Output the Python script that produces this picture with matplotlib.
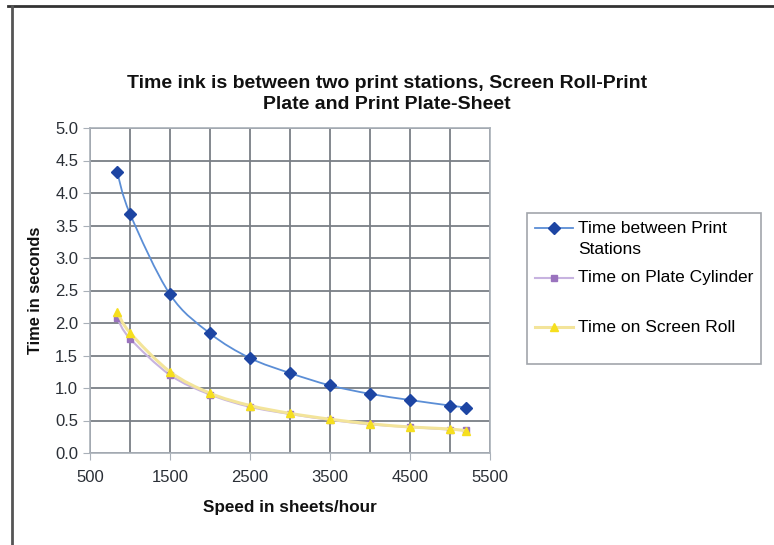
import numpy as np
import matplotlib
matplotlib.use('Agg')
import matplotlib.pyplot as plt
from matplotlib.lines import Line2D
from matplotlib.path import Path
from matplotlib.patches import PathPatch
from matplotlib.legend_handler import HandlerLine2D
from matplotlib.ticker import MultipleLocator, FormatStrFormatter

plt.rcParams['font.family'] = ['Liberation Sans', 'DejaVu Sans']

# data
speeds = [840, 1000, 1500, 2000, 2500, 3000, 3500, 4000, 4500, 5000, 5200]
between_stations = [4.32, 3.68, 2.44, 1.84, 1.46, 1.23, 1.04, 0.91, 0.815, 0.73, 0.70]
plate_cylinder = [2.07, 1.76, 1.20, 0.90, 0.71, 0.60, 0.51, 0.44, 0.40, 0.36, 0.35]
screen_roll = [2.17, 1.85, 1.25, 0.92, 0.73, 0.61, 0.52, 0.45, 0.40, 0.37, 0.34]
series_labels = ["Time between Print\nStations", "Time on Plate Cylinder\n", "Time on Screen Roll\n"]
x_ticks = [500, 1500, 2500, 3500, 4500, 5500]

title = "Time ink is between two print stations, Screen Roll-Print\nPlate and Print Plate-Sheet"
x_label = "Speed in sheets/hour"
y_label = "Time in seconds"


class TopLineHandler(HandlerLine2D):
    """Legend handle aligned with the first line of a two-line label."""
    def __init__(self, dy, **kw):
        super().__init__(**kw)
        self.dy = dy

    def create_artists(self, legend, orig_handle, xdescent, ydescent, width, height, fontsize, trans):
        arts = super().create_artists(legend, orig_handle, xdescent, ydescent, width, height, fontsize, trans)
        for a in arts:
            a.set_ydata(np.asarray(a.get_ydata()) + self.dy)
        return arts


def smooth_path(x, y):
    # Excel-style smoothed line: bezier segments through the data points
    p = np.column_stack([x, y]).astype(float)
    verts = [p[0]]
    codes = [Path.MOVETO]
    n = len(p)
    for i in range(n - 1):
        p0 = p[max(i - 1, 0)]
        p3 = p[min(i + 2, n - 1)]
        c1 = p[i] + (p[i + 1] - p0) / 6
        c2 = p[i + 1] - (p3 - p[i]) / 6
        verts += [c1, c2, p[i + 1]]
        codes += [Path.CURVE4] * 3
    return Path(verts, codes)


fig = plt.figure(figsize=(7.74, 5.45), dpi=100)
ax = fig.add_axes([90 / 774, 1 - 453 / 545, 400 / 774, 325 / 545])

styles = [
    (between_stations, dict(color="#5b8ed6", lw=1.3, marker="D", ms=6, mfc="#1d45a3", mec="#1d45a3"), 4),
    (plate_cylinder, dict(color="#c7b3e0", lw=1.5, marker="s", ms=4.5, mfc="#9a73be", mec="#9a73be"), 2),
    (screen_roll, dict(color="#f3e49a", lw=2.2, marker="^", ms=6, mfc="#f6df1e", mec="#f6df1e"), 3),
]
handles = []
for vals, st, z in styles:
    ax.add_patch(PathPatch(smooth_path(speeds, vals), fill=False, edgecolor=st["color"],
                           lw=st["lw"], zorder=z))
    ax.plot(speeds, vals, ls="none", marker=st["marker"], ms=st["ms"], mfc=st["mfc"],
            mec=st["mec"], zorder=z + 0.5)
    handles.append(Line2D([], [], **st))

ax.set_xlim(500, 5500)
ax.set_ylim(0, 5)
ax.set_xticks(x_ticks)
ax.xaxis.set_minor_locator(MultipleLocator(500))
ax.yaxis.set_major_locator(MultipleLocator(0.5))
ax.yaxis.set_major_formatter(FormatStrFormatter("%.1f"))
ax.grid(True, which="both", color="#7a7f86", lw=1.3)
ax.set_axisbelow(True)
for s in ax.spines.values():
    s.set_color("#a9b0b8")
    s.set_linewidth(1.2)
ax.tick_params(axis="both", which="major", length=5, color="#a9b0b8",
               labelsize=12, labelcolor="#2a2f36")
ax.tick_params(axis="x", which="minor", length=0)
ax.tick_params(axis="x", pad=7)

ax.set_xlabel(x_label, fontsize=12.3, fontweight="bold", color="#111", labelpad=11)
ax.set_ylabel(y_label, fontsize=11.8, fontweight="bold", color="#111", labelpad=9)

fig.text(0.5, 1 - 94 / 545, title, ha="center", va="center", fontsize=14,
         fontweight="bold", color="#111", linespacing=1.3)

hm = {h: TopLineHandler(7.6) for h in handles}
leg = fig.legend(handles, series_labels,
                 loc="upper left", bbox_to_anchor=(527 / 774, 1 - 213 / 545),
                 fontsize=12.5, frameon=True, fancybox=False, edgecolor="#8a8f96",
                 handlelength=2.2, handletextpad=0.3, labelspacing=0.8,
                 borderpad=0.45, borderaxespad=0, handler_map=hm)
for t in leg.get_texts():
    t.set_linespacing(1.48)
leg.get_frame().set_linewidth(1.2)

# outer frame (top and left edges visible in the reference)
fig.add_artist(Line2D([8 / 774, 1], [1 - 6 / 545, 1 - 6 / 545], color="#333", lw=2,
                      transform=fig.transFigure))
fig.add_artist(Line2D([12 / 774, 12 / 774], [0, 1 - 6 / 545], color="#555", lw=2,
                      transform=fig.transFigure))

fig.savefig("out.png", dpi=100)
